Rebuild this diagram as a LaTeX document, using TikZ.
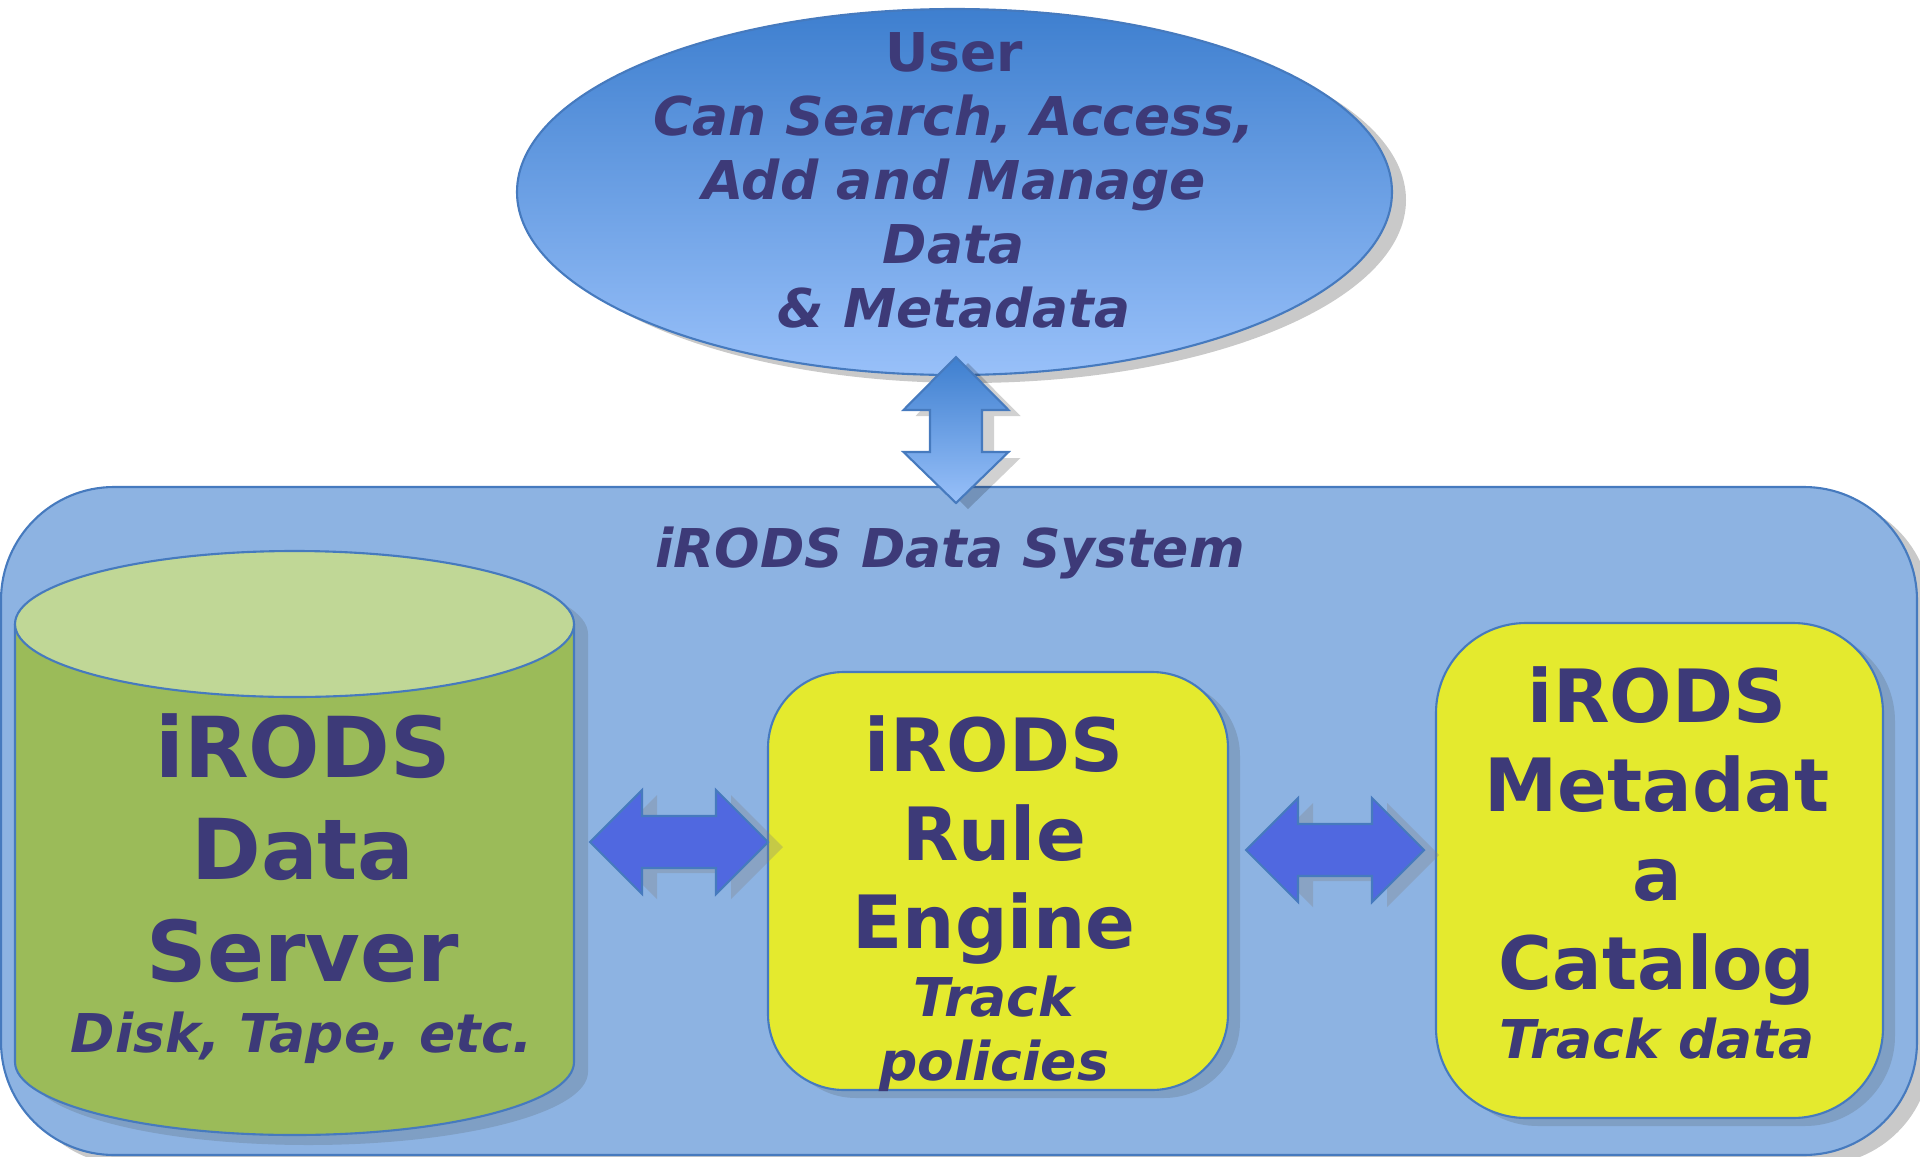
\documentclass[tikz,border=0pt]{standalone}
\usepackage{fontspec}
\setmainfont{DejaVu Sans}[BoldFont={DejaVu Sans Bold},ItalicFont={DejaVu Sans Oblique},BoldItalicFont={DejaVu Sans Bold Oblique}]
\definecolor{txtblue}{RGB}{61,58,120}
\definecolor{edgeblue}{RGB}{70,122,190}
\definecolor{usertop}{RGB}{62,127,207}
\definecolor{userbot}{RGB}{152,192,249}
\definecolor{sysfill}{RGB}{141,179,226}
\definecolor{srvside}{RGB}{155,187,89}
\definecolor{srvtop}{RGB}{192,215,150}
\definecolor{boxyellow}{RGB}{228,234,46}
\definecolor{arrowblue}{RGB}{80,104,224}
\definecolor{innershadow}{RGB}{127,159,196}
\definecolor{outershadow}{RGB}{201,201,201}
\newcommand{\smallf}{\fontsize{15.2}{18.2}\selectfont\bfseries\itshape}
\newcommand{\bigf}{\fontsize{20.9}{25.3}\selectfont\bfseries}
\newcommand{\hugef}{\fontsize{23.9}{29}\selectfont\bfseries}
\begin{document}
\begin{tikzpicture}[x=0.01cm,y=-0.01cm,line width=0.6pt,
		txt/.style={text=txtblue,inner sep=0pt,align=center},
		outline/.style={draw=edgeblue},
		blockarrow/.style={fill=arrowblue,draw=edgeblue},
		arrowshadow/.style={fill=gray,opacity=0.3}]
		\useasboundingbox (0,0) rectangle (1920,1157);
		\clip (0,0) rectangle (1920,1157);
		% data system frame
		\fill[outershadow,rounded corners=1.13cm,shift={(14,10)}] (1,487) rectangle (1917,1155);
		\filldraw[fill=sysfill,outline,rounded corners=1.13cm] (1,487) rectangle (1917,1155);
		\node[txt,font=\smallf,anchor=base] (systitle) at (950,567) {iRODS Data System};
		% user
		\fill[outershadow,shift={(14,8)}] (954.5,192) ellipse[x radius=437.5,y radius=183];
		\shadedraw[top color=usertop,bottom color=userbot,draw=edgeblue] (954.5,192) ellipse[x radius=437.5,y radius=183];
		\node[txt,font=\smallf] (user) at (954,180) {{\upshape User}\\Can Search, Access,\\Add and Manage\\Data\\\& Metadata};
		% user <-> system
		\coordinate (vtop) at (956,357);
		\fill[black,opacity=0.18] ([shift={(12,6)}]vtop) -- ++(52.5,53) -- ++(-26.5,0) -- ++(0,42) -- ++(26.5,0) -- ++(-52.5,51) -- ++(-52.5,-51) -- ++(26.5,0) -- ++(0,-42) -- ++(-26.5,0) -- cycle;
		\shadedraw[top color=usertop,bottom color=userbot,draw=edgeblue] (vtop) -- ++(52.5,53) -- ++(-26.5,0) -- ++(0,42) -- ++(26.5,0) -- ++(-52.5,51) -- ++(-52.5,-51) -- ++(26.5,0) -- ++(0,-42) -- ++(-26.5,0) -- cycle;
		% data server
		\fill[innershadow,shift={(14,10)}] (15,624) -- (15,1062) arc[start angle=180,end angle=0,x radius=279.5,y radius=73] -- (574,624) arc[start angle=0,end angle=-180,x radius=279.5,y radius=73] -- cycle;
		\filldraw[fill=srvside,outline] (15,624) -- (15,1062) arc[start angle=180,end angle=0,x radius=279.5,y radius=73] -- (574,624);
		\filldraw[fill=srvtop,outline] (294.5,624) ellipse[x radius=279.5,y radius=73];
		\node[txt,font=\hugef] (srvname) at (303,848) {iRODS\\Data\\Server};
		\node[txt,font=\smallf,anchor=base] (srvnote) at (302,1052) {Disk, Tape, etc.};
		% rule engine
		\fill[innershadow,rounded corners=0.76cm,shift={(12,8)}] (768,672) rectangle (1228,1090);
		\filldraw[fill=boxyellow,outline,rounded corners=0.76cm] (768,672) rectangle (1228,1090);
		\node[txt,font=\bigf] (rulename) at (994,840) {iRODS\\Rule\\Engine};
		\node[txt,font=\smallf] (rulenote) at (994,1034) {Track\\policies};
		% metadata catalog
		\fill[innershadow,rounded corners=0.9cm,shift={(12,8)}] (1436,623) rectangle (1883,1118);
		\filldraw[fill=boxyellow,outline,rounded corners=0.9cm] (1436,623) rectangle (1883,1118);
		\node[txt,font=\bigf] (catname) at (1657,836) {iRODS\\Metadat\\a\\Catalog};
		\node[txt,font=\smallf,anchor=base] (catnote) at (1657,1058) {Track data};
		% server <-> rules <-> catalog
		\coordinate (lhead) at (590,842);
		\coordinate (rhead) at (1246,850);
		\foreach \a in {lhead,rhead}{
			\fill[arrowshadow] ([shift={(15,5)}]\a) -- ++(52,-52) -- ++(0,26) -- ++(74,0) -- ++(0,-26) -- ++(52,52) -- ++(-52,52) -- ++(0,-26) -- ++(-74,0) -- ++(0,26) -- cycle;
			\filldraw[blockarrow] (\a) -- ++(52,-52) -- ++(0,26) -- ++(74,0) -- ++(0,-26) -- ++(52,52) -- ++(-52,52) -- ++(0,-26) -- ++(-74,0) -- ++(0,26) -- cycle;
		}
\end{tikzpicture}
\end{document}
